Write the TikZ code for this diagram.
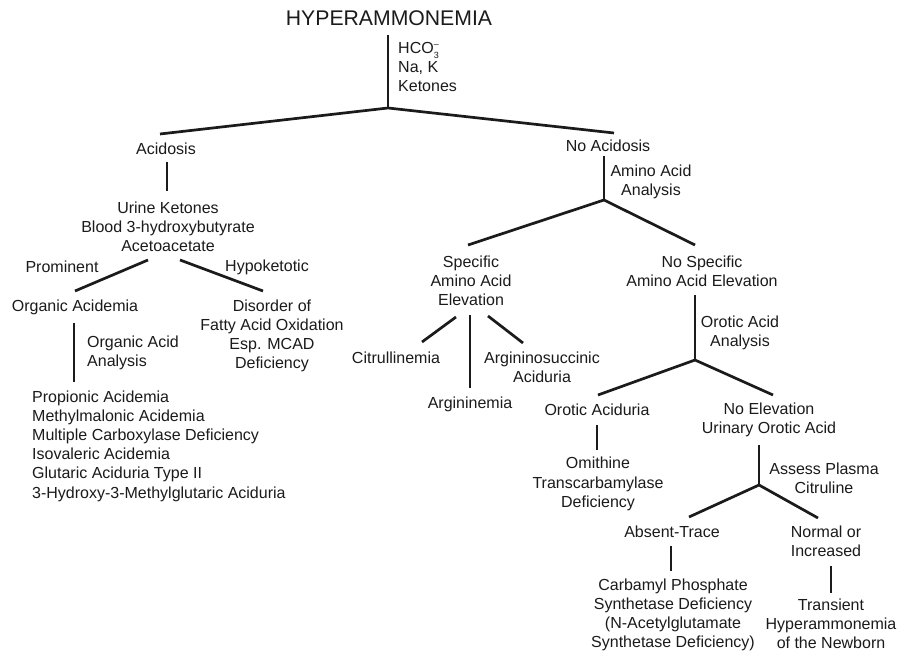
\documentclass[tikz,border=0pt]{standalone}
\usepackage{fontspec}
\setmainfont{Liberation Sans}
\definecolor{ink}{HTML}{1C1A1B}
\begin{document}
\begin{tikzpicture}[x=1pt,y=-1pt,
  txt/.style={font=\fontsize{16}{19.2}\selectfont, inner sep=0pt, align=center, text=ink},
  ltxt/.style={txt, align=left},
  title/.style={font=\fontsize{21.2}{24}\selectfont, inner sep=0pt, text=ink},
  link/.style={line width=2.7pt, draw=ink}]
\useasboundingbox (0,0) rectangle (904,652);
\fill[white] (0,0) rectangle (904,652);

% ---- text ----
\node[title] (hyper) at (389,18) {HYPERAMMONEMIA};
\node[ltxt, anchor=north west] (tests) at (398,42)
  {HCO\rlap{\raisebox{6.3pt}{\fontsize{9}{9}\selectfont –}}\raisebox{-5.2pt}{\fontsize{9}{9}\selectfont 3}\\Na, K\\Ketones};

\node[txt] (acid) at (166,149) {Acidosis};
\node[txt] (noacid) at (608,146) {No Acidosis};

\node[txt] (ket) at (168,227) {Urine Ketones\\Blood 3-hydroxybutyrate\\Acetoacetate};
\node[txt] (prom) at (62,267) {Prominent};
\node[txt] (hypo) at (267,267) {Hypoketotic};
\node[txt] (orgac) at (75,307) {Organic Acidemia};
\node[txt] (fatty) at (272,336) {Disorder of\\Fatty Acid Oxidation\\Esp. MCAD\\Deficiency};
\node[ltxt, anchor=west] (oaa) at (87,353) {Organic Acid\\Analysis};
\node[ltxt, anchor=west] (list) at (32,446) {Propionic Acidemia\\Methylmalonic Acidemia\\Multiple Carboxylase Deficiency\\Isovaleric Acidemia\\Glutaric Aciduria Type II\\3-Hydroxy-3-Methylglutaric Aciduria};

\node[txt] (aaa) at (651,182) {Amino Acid\\Analysis};
\node[txt] (spec) at (471,281) {Specific\\Amino Acid\\Elevation};
\node[txt] (nospec) at (702,271) {No Specific\\Amino Acid Elevation};
\node[txt] (citr) at (396,358) {Citrullinemia};
\node[txt] (argin) at (470,404) {Argininemia};
\node[txt] (argsuc) at (542,367) {Argininosuccinic\\Aciduria};

\node[txt] (ora) at (740,333) {Orotic Acid\\Analysis};
\node[txt] (orac) at (597,410) {Orotic Aciduria};
\node[txt] (noelev) at (769,420) {No Elevation\\Urinary Orotic Acid};
\node[txt] (otc) at (598,484) {Omithine\\Transcarbamylase\\Deficiency};
\node[txt] (assess) at (824,478) {Assess Plasma\\Citruline};
\node[txt] (absent) at (672,532) {Absent-Trace};
\node[txt] (normal) at (826,541) {Normal or\\Increased};
\node[txt] (cps) at (673,615) {Carbamyl Phosphate\\Synthetase Deficiency\\(N-Acetylglutamate\\Synthetase Deficiency)};
\node[txt] (trans) at (831,624) {Transient\\Hyperammonemia\\of the Newborn};

% ---- line end points ----
\coordinate (t0) at (388,35);   \coordinate (b0) at (388,108);
\coordinate (l0) at (160,134);  \coordinate (r0) at (614,133);
\coordinate (a1) at (167,162);  \coordinate (a2) at (167,191);
\coordinate (p1) at (148,260);  \coordinate (p2) at (75,291);
\coordinate (h1) at (180,260);  \coordinate (h2) at (263,291);
\coordinate (o1) at (74,323);   \coordinate (o2) at (74,382);
\coordinate (n1) at (604,156);  \coordinate (b1) at (604,200);
\coordinate (l1) at (468,245);  \coordinate (r1) at (695,245);
\coordinate (s1) at (456,317);  \coordinate (s2) at (422,342);
\coordinate (s3) at (470,315);  \coordinate (s4) at (470,388);
\coordinate (s5) at (488,316);  \coordinate (s6) at (523,343);
\coordinate (n2) at (695,295);  \coordinate (b2) at (695,360);
\coordinate (l2) at (598,395);  \coordinate (r2) at (773,395);
\coordinate (u1) at (597,425);  \coordinate (u2) at (597,450);
\coordinate (n3) at (759,445);  \coordinate (b3) at (759,485);
\coordinate (l3) at (689,517);  \coordinate (r3) at (818,518);
\coordinate (c1) at (671,546);  \coordinate (c2) at (671,571);
\coordinate (m1) at (831,566);  \coordinate (m2) at (831,593);

% ---- connectors ----
\draw[link] (t0) -- (b0);
\draw[link] (l0) -- (b0) -- (r0);
\draw[link] (a1) -- (a2);
\draw[link] (p1) -- (p2);
\draw[link] (h1) -- (h2);
\draw[link] (o1) -- (o2);
\draw[link] (n1) -- (b1);
\draw[link] (l1) -- (b1) -- (r1);
\draw[link] (s1) -- (s2);
\draw[link] (s3) -- (s4);
\draw[link] (s5) -- (s6);
\draw[link] (n2) -- (b2);
\draw[link] (l2) -- (b2) -- (r2);
\draw[link] (u1) -- (u2);
\draw[link] (n3) -- (b3);
\draw[link] (l3) -- (b3) -- (r3);
\draw[link] (c1) -- (c2);
\draw[link] (m1) -- (m2);
\end{tikzpicture}
\end{document}
